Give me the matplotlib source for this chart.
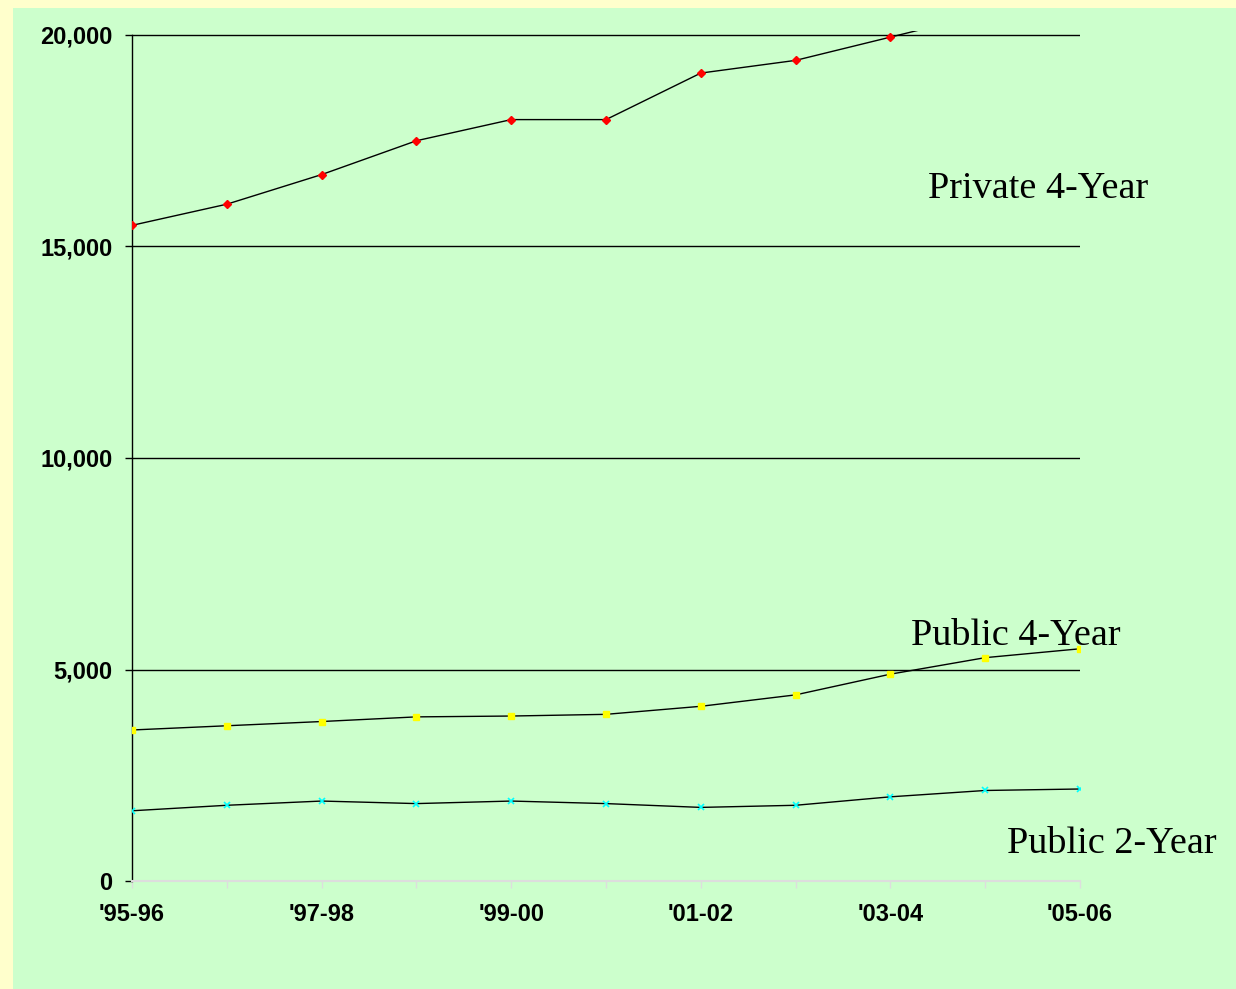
import matplotlib.pyplot as plt
from matplotlib.patches import Rectangle

# academic years and average published tuition (constant dollars)
years = ["'95-96", "'96-97", "'97-98", "'98-99", "'99-00", "'00-01",
         "'01-02", "'02-03", "'03-04", "'04-05", "'05-06"]
private_4yr = [15500, 16000, 16700, 17500, 18000, 18000,
               19100, 19400, 19950, 20500, 21100]
public_4yr = [3570, 3670, 3770, 3880, 3900, 3940,
              4130, 4400, 4890, 5280, 5490]
public_2yr = [1660, 1790, 1890, 1830, 1890, 1830,
              1740, 1790, 1990, 2140, 2175]

yticks = [0, 5000, 10000, 15000, 20000]

W, H = 1236, 989
fig = plt.figure(figsize=(W / 100, H / 100), dpi=100)
fig.patch.set_facecolor('#FFFFCC')

# green panel behind the chart
fig.patches.append(Rectangle((13 / W, 0), 1 - 13 / W, 1 - 8 / H,
                             transform=fig.transFigure, facecolor='#CCFFCC',
                             edgecolor='none', zorder=-5))

# title, mostly cut off at the top of the slide
fig.text(0.025, 1 - 9 / H, "1995-96 to 2005-06 in Constant Dollars",
         color='white', fontsize=46, fontweight='bold', family='Liberation Sans',
         ha='left', va='bottom', zorder=-4)

top = 31  # pixel row where the plot area is clipped
ax = fig.add_axes([132 / W, 1 - 881 / H, 948 / W, (881 - top) / H])
ax.set_facecolor('none')
x = list(range(len(years)))

ax.set_ylim(0, 20000 * (881 - top) / 846)
ax.set_xlim(0, len(years) - 1)

for v in yticks[1:]:
    ax.axhline(v, color='black', lw=1, zorder=1)

ax.plot(x, private_4yr, color='black', lw=1, marker='D', ms=4.5,
        mfc='red', mec='red', zorder=3)
ax.plot(x, public_4yr, color='black', lw=1, marker='s', ms=5,
        mfc='yellow', mec='yellow', zorder=3)
ax.plot(x, public_2yr, color='black', lw=1, marker='x', ms=5,
        mec='#00FFFF', mew=1.2, zorder=3)

for s in ['top', 'right']:
    ax.spines[s].set_visible(False)
ax.spines['left'].set_bounds(0, 20000)
ax.spines['left'].set_linewidth(1)
ax.spines['bottom'].set_color('#DDDDDD')
ax.spines['bottom'].set_linewidth(1.5)

ax.set_yticks(yticks)
ax.set_yticklabels([f"{v:,}" for v in yticks])
ax.tick_params(axis='y', length=5, width=1, color='black', pad=9,
               labelsize=17)
ax.set_xticks(x)
ax.set_xticklabels([y if i % 2 == 0 else '' for i, y in enumerate(years)])
ax.tick_params(axis='x', length=5, width=1, color='#DDDDDD', pad=11,
               labelsize=17)
for lab in ax.get_xticklabels() + ax.get_yticklabels():
    lab.set_fontweight('bold')
    lab.set_family('Liberation Sans')

# series names written on the plot
serif = dict(family='Liberation Serif', fontsize=27.5, color='black')
fig.text(928 / W, 1 - 198 / H, "Private 4-Year", ha='left', va='baseline', **serif)
fig.text(911 / W, 1 - 645 / H, "Public 4-Year", ha='left', va='baseline', **serif)
fig.text(1007 / W, 1 - 853 / H, "Public 2-Year", ha='left', va='baseline', **serif)

fig.savefig('out.png', dpi=100, facecolor=fig.get_facecolor())
